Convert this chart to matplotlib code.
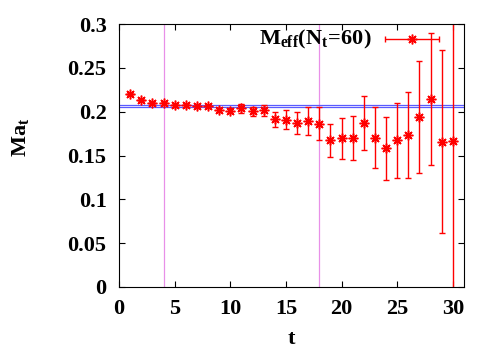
import numpy as np
import matplotlib
matplotlib.use("Agg")
import matplotlib.pyplot as plt

plt.rcParams['font.family'] = 'Liberation Serif'
plt.rcParams['font.weight'] = 'bold'
plt.rcParams['mathtext.fontset'] = 'custom'
plt.rcParams['mathtext.rm'] = 'Liberation Serif:bold'
plt.rcParams['mathtext.it'] = 'Liberation Serif:bold'
plt.rcParams['mathtext.bf'] = 'Liberation Serif:bold'

### effective mass data
t = np.arange(1, 31)
meff = [0.2198, 0.2133, 0.2103, 0.2095, 0.2072, 0.2075, 0.2065, 0.2062, 0.2023, 0.2011,
        0.2038, 0.2005, 0.2015, 0.1915, 0.1910, 0.1874, 0.1895, 0.1865, 0.1675, 0.1695,
        0.1705, 0.1870, 0.1705, 0.1585, 0.1675, 0.1735, 0.1945, 0.2145, 0.1660, 0.1665]
err = [0.0012, 0.0012, 0.0013, 0.0014, 0.0015, 0.0016, 0.0018, 0.0020, 0.0024, 0.0030,
       0.0047, 0.0050, 0.0063, 0.0086, 0.0105, 0.0128, 0.0156, 0.0185, 0.0186, 0.0230,
       0.0250, 0.0310, 0.0350, 0.0360, 0.0430, 0.0490, 0.0640, 0.0750, 0.1040, 0.3000]

### fit window and fit band
fit_range = [4, 18]
fit_band = [0.2057, 0.2080]

fig = plt.figure(figsize=(5, 3.5), dpi=100)
ax = fig.add_axes([0.238, 0.18, 0.690, 0.751])

for x in fit_range:
    ax.axvline(x, color='#e890e8', lw=0.9, zorder=1)
for y in fit_band:
    ax.axhline(y, color='#5a5aff', lw=0.9, zorder=1)

ax.errorbar(t, meff, yerr=err, fmt='none', ecolor='red', elinewidth=1.0,
            capsize=2.5, capthick=1.0, zorder=2)
ax.plot(t, meff, ls='none', marker=(8, 2, 0), ms=7, mew=1.1, color='red', zorder=3)

### legend (gnuplot style, horizontal sample)
ax.text(0.733, 0.943, r'$M_{eff}(N_t\!=\!60)$', transform=ax.transAxes,
        ha='right', va='center', fontsize=16)
ax.errorbar([0.849], [0.943], xerr=[0.078], transform=ax.transAxes, fmt='none',
            ecolor='red', elinewidth=1.0, capsize=2.5, capthick=1.0, clip_on=False)
ax.plot([0.849], [0.943], transform=ax.transAxes, ls='none', marker=(8, 2, 0),
        ms=7, mew=1.1, color='red', clip_on=False)

ax.set_xlim(0, 31)
ax.set_ylim(0, 0.3)
ax.set_xticks(np.arange(0, 31, 5))
ax.set_yticks([0, 0.05, 0.1, 0.15, 0.2, 0.25, 0.3])
ax.set_yticklabels(['0', '0.05', '0.1', '0.15', '0.2', '0.25', '0.3'])
ax.tick_params(direction='in', top=True, right=True, length=4, labelsize=16, pad=9)
ax.set_xlabel('t', fontsize=16, fontweight='bold', va='baseline')
ax.xaxis.set_label_coords(0.5, -0.215)
ax.set_ylabel(r'$Ma_t$', fontsize=16)
ax.yaxis.set_label_coords(-0.255, 0.57)

plt.savefig('out.png', dpi=100)
